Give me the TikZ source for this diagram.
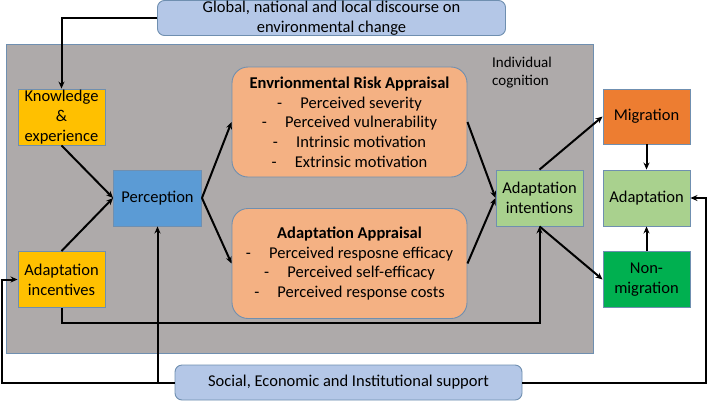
\documentclass[tikz,border=0pt]{standalone}
\usepackage{fontspec}
\setmainfont{Carlito}
\usetikzlibrary{arrows.meta}
\definecolor{grayfill}{HTML}{AEAAAA}
\definecolor{lblue}{HTML}{B4C7E7}
\definecolor{lorange}{HTML}{F4B183}
\definecolor{gold}{HTML}{FFC000}
\definecolor{mblue}{HTML}{5B9BD5}
\definecolor{lgreen}{HTML}{A9D18E}
\definecolor{orng}{HTML}{ED7D31}
\definecolor{grn}{HTML}{00B050}
\definecolor{edge}{HTML}{6F8FB0}
\tikzset{
  box/.style={draw=edge, line width=0.9pt, inner sep=0pt, align=center,
    minimum width=87pt, minimum height=56pt, font=\fontsize{16.5}{20}\selectfont},
  appr/.style={box, rounded corners=16pt, fill=lorange, minimum width=235pt,
    minimum height=110pt, font=\fontsize{16.5}{19.7}\selectfont},
  ext/.style={box, rounded corners=7pt, fill=lblue, minimum height=35pt},
  conn/.style={line width=2pt, black},
  arr/.style={conn, -{Stealth[length=7pt,width=6pt]}}
}
\newcommand{\itm}[1]{-\hspace{1.1em}#1}
\begin{document}
\begin{tikzpicture}[x=1pt,y=-1pt]
\useasboundingbox (0,0) rectangle (708,402);
\fill[white] (0,0) rectangle (708,402);
\draw[draw=edge, fill=grayfill, line width=0.9pt] (6,44) rectangle (593,353);
\node[anchor=north west, align=left, inner sep=0pt, font=\fontsize{15}{17.5}\selectfont] (ic) at (492,57) {Individual\\cognition};

\node[ext, minimum width=348pt] (glob) at (331.5,18) {Global, national and local discourse on\\environmental change};
\node[ext, minimum width=347pt] (soc) at (348.5,382.5) {Social, Economic and Institutional support};

\node[box, fill=gold] (know) at (61.5,117) {Knowledge\\\&\\experience};
\node[box, fill=gold] (inc) at (61.5,279.5) {Adaptation\\incentives};
\node[box, fill=mblue, minimum width=88pt] (perc) at (157.5,198) {Perception};
\node[appr] (era) at (349.5,122) {\textbf{Envrionmental Risk Appraisal}\\\itm{Perceived severity}\\\itm{Perceived vulnerability}\\\itm{Intrinsic motivation}\\\itm{Extrinsic motivation}};
\node[appr] (aa) at (349.5,263.5) {\textbf{Adaptation Appraisal}\\\itm{Perceived resposne efficacy}\\\itm{Perceived self-efficacy}\\\itm{Perceived response costs}};
\node[box, fill=lgreen] (int) at (539.5,198) {Adaptation\\intentions};
\node[box, fill=orng, minimum height=55pt] (mig) at (646.5,116.5) {Migration};
\node[box, fill=lgreen] (adap) at (646.5,198) {Adaptation};
\node[box, fill=grn] (non) at (646.5,279.5) {Non-\\migration};

\coordinate (lc) at (2,382.5);
\coordinate (rc) at (706,382.5);
\coordinate (pj) at (157.5,382.5);
\coordinate (ibot) at (61.5,323);

\draw[arr] (glob.west) -| (know.north);
\draw[arr] (know.south) -- (perc.west);
\draw[arr] (inc.north) -- (perc.west);
\draw[arr] (perc.east) -- (era.west);
\draw[arr] (perc.east) -- (aa.west);
\draw[arr] (era.east) -- (int.west);
\draw[arr] (aa.east) -- (int.west);
\draw[arr] (int.north) -- (mig.west);
\draw[arr] (int.south) -- (non.west);
\draw[arr] (mig.south) -- (adap.north);
\draw[arr] (non.north) -- (adap.south);
\draw[arr] (inc.south) -- (ibot) -| (int.south);
\draw[arr] (soc.west) -- (lc) |- (inc.west);
\draw[arr] (pj) -- (perc.south);
\draw[arr] (soc.east) -- (rc) |- (adap.east);
\end{tikzpicture}
\end{document}
